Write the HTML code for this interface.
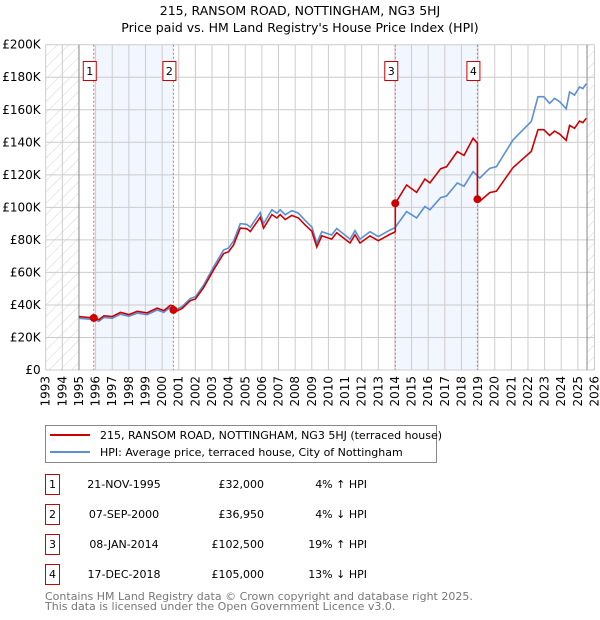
<!DOCTYPE html>
<html><head><meta charset="utf-8">
<style>
body{margin:0;background:#fff;width:600px;height:620px;overflow:hidden;font-family:"DejaVu Sans","Liberation Sans",sans-serif;}
svg{position:absolute;left:0;top:0}
</style></head>
<body>
<svg id="chart" width="600" height="620" viewBox="0 0 600 620">
<defs>
<pattern id="hatch" patternUnits="userSpaceOnUse" width="8" height="8" patternTransform="rotate(45)">
<line x1="0" y1="0" x2="0" y2="8" stroke="#d4d4d4" stroke-width="1"/>
</pattern>
</defs>
<text x="300" y="15" text-anchor="middle" font-size="12.5">215, RANSOM ROAD, NOTTINGHAM, NG3 5HJ</text>
<text x="300" y="32" text-anchor="middle" font-size="12.5">Price paid vs. HM Land Registry's House Price Index (HPI)</text>
<g id="plot"></g>
<g>
<rect x="45.5" y="425.5" width="391" height="37" fill="#fff" stroke="#888"/>
<line x1="50" y1="435" x2="90" y2="435" stroke="#cc0000" stroke-width="2"/>
<text x="100" y="439" font-size="11">215, RANSOM ROAD, NOTTINGHAM, NG3 5HJ (terraced house)</text>
<line x1="50" y1="452" x2="90" y2="452" stroke="#5b8fd4" stroke-width="2"/>
<text x="100" y="456" font-size="11">HPI: Average price, terraced house, City of Nottingham</text>
</g>
<g id="table" font-size="11"></g>
<text x="45" y="600" font-size="11" fill="#777">Contains HM Land Registry data © Crown copyright and database right 2025.</text>
<text x="45" y="610" font-size="11" fill="#777">This data is licensed under the Open Government Licence v3.0.</text>
</svg>
<script>
const hpiYears=[1995.0,1995.9,1996.2,1996.5,1997.0,1997.5,1998.0,1998.5,1999.1,1999.7,2000.1,2000.5,2000.9,2001.2,2001.7,2002.0,2002.5,2003.1,2003.7,2004.0,2004.3,2004.7,2005.1,2005.3,2005.9,2006.1,2006.6,2006.9,2007.1,2007.4,2007.8,2008.2,2008.6,2009.0,2009.3,2009.6,2010.2,2010.5,2011.3,2011.6,2011.9,2012.5,2013.0,2013.7,2014.0,2014.7,2015.3,2015.8,2016.1,2016.75,2017.1,2017.75,2018.15,2018.7,2019.1,2019.7,2020.1,2021.1,2021.7,2022.2,2022.6,2022.95,2023.3,2023.6,2023.9,2024.3,2024.5,2024.8,2025.1,2025.3,2025.5];
const hpiValues=[31.8,31,30,32.3,31.8,34.3,33,35,34,36.9,35.4,38.6,37.5,39,44,45,52.3,63.6,73.8,75,79.4,90,89.5,87.8,96.8,90,98.5,96.4,98.5,95.4,98,96.4,92,88,78,85,83,87,80.5,85.7,80.5,85,82,86,87.5,97.4,93.5,100.5,98.5,106,107,115,113,122,118,124,125,141.5,147.7,152.8,168,168,164,167,165,160.6,171,169,174,173,176];
const saleDates=[1995.89,2000.68,2014.02,2018.96];
const salePrices=[32000,36950,102500,105000];
const saleLabels=["1","2","3","4"];
const saleDateText=["21-NOV-1995","07-SEP-2000","08-JAN-2014","17-DEC-2018"];
const salePriceText=["£32,000","£36,950","£102,500","£105,000"];
const saleHpiText=["4% ↑ HPI","4% ↓ HPI","19% ↑ HPI","13% ↓ HPI"];
const yTicks=[0,20,40,60,80,100,120,140,160,180,200];
const xTicks=[1993,1994,1995,1996,1997,1998,1999,2000,2001,2002,2003,2004,2005,2006,2007,2008,2009,2010,2011,2012,2013,2014,2015,2016,2017,2018,2019,2020,2021,2022,2023,2024,2025,2026];

const X0=45.7,X1=594.5,Y0=370,Y1=44.7;
const xs=y=>X0+(y-1993)/(2026-1993)*(X1-X0);
const ys=v=>Y0-v/200*(Y0-Y1);
const NS="http://www.w3.org/2000/svg";
const plot=document.getElementById('plot');
function mk(tag,attrs,parent){const e=document.createElementNS(NS,tag);for(const k in attrs)e.setAttribute(k,attrs[k]);(parent||plot).appendChild(e);return e;}
function hpiAt(t){for(let i=0;i<hpiYears.length-1;i++){if(t>=hpiYears[i]&&t<=hpiYears[i+1]){const f=(t-hpiYears[i])/(hpiYears[i+1]-hpiYears[i]);return hpiValues[i]+f*(hpiValues[i+1]-hpiValues[i]);}}return hpiValues[hpiValues.length-1];}

let r=mk('rect',{x:X0,y:Y1,width:X1-X0,height:Y0-Y1,fill:'#fff'});


[[0,1],[2,3]].forEach((p,i)=>{
 const s=mk('rect',{x:xs(saleDates[p[0]]),y:Y1,width:xs(saleDates[p[1]])-xs(saleDates[p[0]]),height:Y0-Y1,fill:'#f2f6fe'});
 
 
});
let h1=mk('rect',{x:X0,y:Y1,width:xs(1995)-X0,height:Y0-Y1,fill:'url(#hatch)'});


let h2=mk('rect',{x:xs(2025.55),y:Y1,width:X1-xs(2025.55),height:Y0-Y1,fill:'url(#hatch)'});


yTicks.forEach(v=>{
 const l=mk('line',{x1:X0,x2:X1,y1:ys(v),y2:ys(v),stroke:'#ccc','stroke-width':1});
 
 
 const t=mk('text',{x:X0-5,y:ys(v)+4,'text-anchor':'end','font-size':'12'});
 t.textContent='£'+(v===0?'0':v+'K');
 
 
});
xTicks.forEach(yr=>{
 const l=mk('line',{x1:xs(yr),x2:xs(yr),y1:Y1,y2:Y0,stroke:'#ccc','stroke-width':1});
 
 
 const t=mk('text',{x:0,y:0,'text-anchor':'end','font-size':'12',transform:`translate(${xs(yr)+4},${Y0+6}) rotate(-90)`});
 t.textContent=yr;
 
 
});
let b1=mk('line',{x1:xs(1995),x2:xs(1995),y1:Y1,y2:Y0,stroke:'#888'});


let b2=mk('line',{x1:xs(2025.55),x2:xs(2025.55),y1:Y1,y2:Y0,stroke:'#888'});


saleDates.forEach((d,i)=>{
 const l=mk('line',{x1:xs(d),x2:xs(d),y1:Y1,y2:Y0,stroke:'#f06060','stroke-width':1,'stroke-dasharray':'2,2'});
 
 
});
let pts=hpiYears.map((y,i)=>xs(y).toFixed(1)+','+ys(hpiValues[i]).toFixed(1)).join(' ');
let hl=mk('polyline',{points:pts,fill:'none',stroke:'#5b8fd4','stroke-width':1.6});


const ratios=saleDates.map((d,i)=>salePrices[i]/1000/hpiAt(d));
let rp=[];
const segBounds=[1990,saleDates[1],saleDates[2],saleDates[3],2100];
for(let s=0;s<4;s++){
 const a=segBounds[s],b=segBounds[s+1];
 if(s>0)rp.push([saleDates[s],hpiAt(saleDates[s])*ratios[s]]);
 hpiYears.forEach((y,i)=>{if(y>=a&&y<b)rp.push([y,hpiValues[i]*ratios[s]]);});
 if(s<3)rp.push([b,hpiAt(b)*ratios[s]]);
}
let rl=mk('polyline',{points:rp.map(p=>xs(p[0]).toFixed(1)+','+ys(p[1]).toFixed(1)).join(' '),fill:'none',stroke:'#cc0000','stroke-width':1.6});


saleDates.forEach((d,i)=>{
 const c=mk('circle',{cx:xs(d),cy:ys(salePrices[i]/1000),r:4,fill:'#cc0000'});
 
 
 const bx=mk('rect',{x:xs(d)-10.5,y:61.5,width:13,height:19,fill:'#fff',stroke:'#cc0000'});
 
 
 const t=mk('text',{x:xs(d)-4,y:75,'text-anchor':'middle','font-size':'11'});
 t.textContent=saleLabels[i];
 
 
});
const tb=document.getElementById('table');
saleDates.forEach((d,i)=>{
 const cy=483+30*i;
 const bx=mk('rect',{x:45.5,y:cy-8.5,width:14,height:20,fill:'#fff',stroke:'#cc0000'},tb);
 
 
 const n=mk('text',{x:52.5,y:cy+5,'text-anchor':'middle'},tb);n.textContent=saleLabels[i];
 
 
 const a=mk('text',{x:124,y:cy+5,'text-anchor':'middle'},tb);a.textContent=saleDateText[i];
 
 
 const p=mk('text',{x:264,y:cy+5,'text-anchor':'end'},tb);p.textContent=salePriceText[i];
 
 
 const hh=mk('text',{x:367,y:cy+5,'text-anchor':'end'},tb);hh.textContent=saleHpiText[i];
 
 
});
</script>
</body></html>
